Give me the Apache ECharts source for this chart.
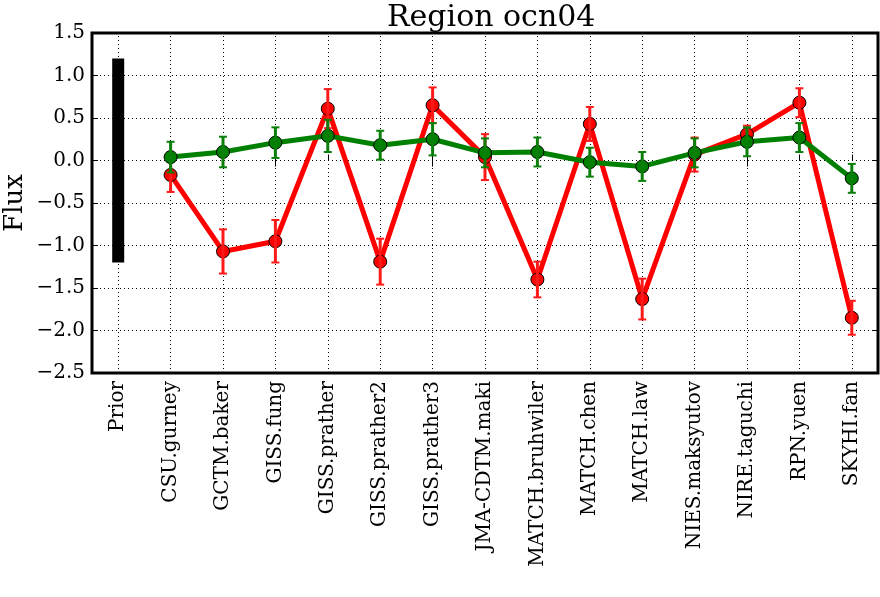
<!DOCTYPE html>
<html>
<head>
<meta charset="utf-8">
<script src="https://cdn.jsdelivr.net/npm/echarts@6/dist/echarts.min.js"></script>
<style>
html,body{margin:0;padding:0;background:#fff;}
#chart{width:880px;height:597px;}
</style>
</head>
<body>
<div id="chart"></div>
<script>
const titleText = 'Region ocn04';
const yAxisName = 'Flux';
const categories = ['Prior','CSU.gurney','GCTM.baker','GISS.fung','GISS.prather','GISS.prather2','GISS.prather3','JMA-CDTM.maki','MATCH.bruhwiler','MATCH.chen','MATCH.law','NIES.maksyutov','NIRE.taguchi','RPN.yuen','SKYHI.fan'];
const priorValue = 0;
const priorErr = 1.2;
const redValues = [null,-0.17,-1.07,-0.95,0.61,-1.19,0.65,0.04,-1.40,0.43,-1.63,0.07,0.31,0.68,-1.85];
const redErr    = [null,0.20,0.26,0.25,0.23,0.27,0.21,0.27,0.21,0.20,0.24,0.20,0.10,0.17,0.20];
const greenValues = [null,0.04,0.10,0.21,0.29,0.18,0.25,0.09,0.10,-0.02,-0.07,0.09,0.22,0.27,-0.21];
const greenErr    = [null,0.18,0.18,0.18,0.19,0.17,0.19,0.17,0.17,0.17,0.17,0.17,0.17,0.17,0.17];
const yMin = -2.5, yMax = 1.5, yStep = 0.5;

const FONT = 'DejaVu Serif';

function errData(vals, errs) {
  const out = [];
  vals.forEach((v, i) => { if (v !== null) out.push([i, v, errs[i]]); });
  return out;
}
function errRender(color, width, capHalf) {
  return function (params, api) {
    const x = api.value(0), y = api.value(1), e = api.value(2);
    const t = api.coord([x, y + e]);
    const b = api.coord([x, y - e]);
    const children = [{
      type: 'line',
      shape: { x1: t[0], y1: t[1], x2: b[0], y2: b[1] },
      style: { stroke: color, lineWidth: width }
    }];
    if (capHalf > 0) {
      children.push({ type: 'line', shape: { x1: t[0] - capHalf, y1: t[1], x2: t[0] + capHalf, y2: t[1] }, style: { stroke: color, lineWidth: 2 } });
      children.push({ type: 'line', shape: { x1: b[0] - capHalf, y1: b[1], x2: b[0] + capHalf, y2: b[1] }, style: { stroke: color, lineWidth: 2 } });
    }
    return { type: 'group', children };
  };
}
function priorRender(params, api) {
  const x = api.value(0), y = api.value(1), e = api.value(2);
  const t = api.coord([x, y + e]);
  const b = api.coord([x, y - e]);
  return { type: 'rect', shape: { x: t[0] - 6, y: t[1], width: 12, height: b[1] - t[1] }, style: { fill: '#000' } };
}
const lineData = arr => arr.map(v => v === null ? '-' : v);

const chart = echarts.init(document.getElementById('chart'), null, { renderer: 'canvas' });
const fmt = v => (v < 0 ? '\u2212' : '') + Math.abs(v).toFixed(1);

chart.setOption({
  animation: false,
  backgroundColor: '#fff',
  title: {
    text: titleText,
    left: 382, top: -2,
    textStyle: { fontFamily: FONT, fontSize: 30, fontWeight: 'normal', color: '#000' }
  },
  grid: { left: 92, top: 33, right: 2, bottom: 224, containLabel: false, outerBoundsMode: 'none', show: true, borderColor: '#000', borderWidth: 3, backgroundColor: 'transparent' },
  xAxis: [{
    type: 'category', data: categories, boundaryGap: true, position: 'bottom',
    axisLine: { show: false },
    axisTick: { show: true, inside: true, alignWithLabel: true, length: 6, lineStyle: { color: '#000', width: 1 } },
    axisLabel: { rotate: 90, fontFamily: FONT, fontSize: 20, color: '#000', margin: 8, interval: 0 },
    splitLine: { show: false }
  }, {
    type: 'category', data: categories, boundaryGap: true, position: 'top',
    axisLine: { show: false },
    axisTick: { show: true, inside: true, alignWithLabel: true, length: 6, lineStyle: { color: '#000', width: 1 } },
    axisLabel: { show: false },
    splitLine: { show: false }
  }],
  yAxis: [{
    type: 'value', min: yMin, max: yMax, interval: yStep,
    name: yAxisName, nameLocation: 'middle', nameGap: 64, nameRotate: 90, nameMoveOverlap: false,
    nameTextStyle: { fontFamily: FONT, fontSize: 26, color: '#000' },
    axisLine: { show: false },
    axisTick: { show: true, inside: true, length: 6, lineStyle: { color: '#000', width: 1 } },
    axisLabel: { fontFamily: FONT, fontSize: 20, color: '#000', margin: 7, formatter: fmt },
    splitLine: { show: true, lineStyle: { color: '#000', width: 1, type: [1, 3] } }
  }, {
    type: 'value', min: yMin, max: yMax, interval: yStep, position: 'right',
    axisLine: { show: false },
    axisTick: { show: true, inside: true, length: 6, lineStyle: { color: '#000', width: 1 } },
    axisLabel: { show: false },
    splitLine: { show: false }
  }],
  series: [
    {
      type: 'line', data: [], silent: true, z: 1,
      markLine: {
        silent: true, symbol: 'none', label: { show: false }, animation: false,
        lineStyle: { color: '#000', width: 1, type: [1, 3] },
        data: categories.map(c => ({ xAxis: c }))
      }
    },
    {
      type: 'custom', renderItem: priorRender, data: [[0, priorValue, priorErr]], z: 3, silent: true
    },
    {
      name: 'red', type: 'line', data: lineData(redValues), z: 4,
      lineStyle: { color: '#ff0000', width: 5 },
      itemStyle: { color: '#ff0000', borderColor: '#000', borderWidth: 1 },
      symbol: 'circle', symbolSize: 13, showAllSymbol: true, connectNulls: false
    },
    {
      type: 'custom', renderItem: errRender('#ff1a1a', 3, 4), data: errData(redValues, redErr), z: 5, silent: true
    },
    {
      name: 'green', type: 'line', data: lineData(greenValues), z: 6,
      lineStyle: { color: '#008000', width: 5 },
      itemStyle: { color: '#008000', borderColor: '#000', borderWidth: 1 },
      symbol: 'circle', symbolSize: 13, showAllSymbol: true, connectNulls: false
    },
    {
      type: 'custom', renderItem: errRender('#0a800a', 3, 4), data: errData(greenValues, greenErr), z: 7, silent: true
    }
  ]
});
</script>
</body>
</html>
